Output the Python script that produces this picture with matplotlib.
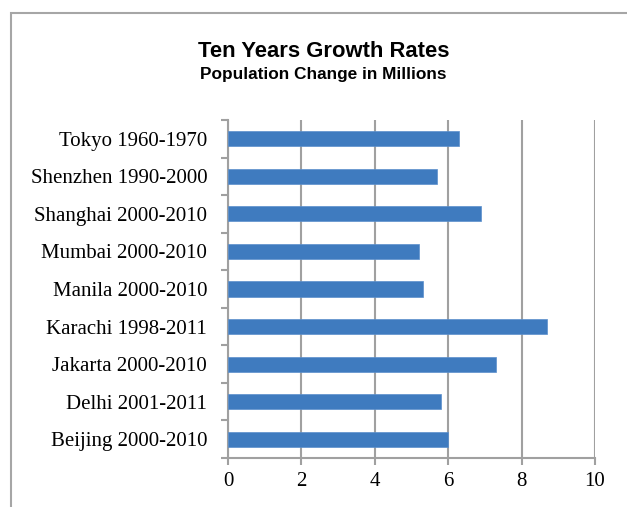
import matplotlib.pyplot as plt
from matplotlib.patches import Rectangle

# Data (bottom to top as drawn)
cities = ['Beijing 2000-2010', 'Delhi 2001-2011', 'Jakarta 2000-2010',
          'Karachi 1998-2011', 'Manila 2000-2010', 'Mumbai 2000-2010',
          'Shanghai 2000-2010', 'Shenzhen 1990-2000', 'Tokyo 1960-1970']
growth = [6.0, 5.8, 7.3, 8.7, 5.3, 5.2, 6.9, 5.7, 6.3]

W, H = 627, 507
fig = plt.figure(figsize=(W / 100, H / 100), dpi=100)

# outer chart frame (left/top visible, rest clipped)
fig.patches.append(Rectangle((10.5 / W, -0.1), 1.2, 1 - 12.5 / H + 0.1,
                             transform=fig.transFigure, fill=False,
                             edgecolor='#a6a6a6', linewidth=1.5))

ax = fig.add_axes([228 / W, 1 - 458 / H, (595 - 228) / W, (458 - 120) / H])
ypos = range(len(cities))
ax.barh(ypos, growth, height=0.4, color='#3f7bbf', edgecolor='#5b8fcc',
        linewidth=0.5, zorder=3)

ax.set_xlim(0, 10)
ax.set_ylim(-0.5, len(cities) - 0.5)
ax.set_xticks(range(0, 11, 2))
ax.set_yticks(list(ypos))
ax.set_yticklabels(cities)
ax.set_yticks([i - 0.5 for i in range(len(cities) + 1)], minor=True)
ax.xaxis.grid(True, color='#a0a0a0', linewidth=1.5, zorder=0)

for s in ['top', 'right']:
    ax.spines[s].set_visible(False)
for s in ['left', 'bottom']:
    ax.spines[s].set_color('#a0a0a0')
    ax.spines[s].set_linewidth(1.5)

ax.tick_params(axis='y', which='major', length=0, pad=15)
ax.tick_params(axis='y', which='minor', length=5, color='#a0a0a0', width=1.5)
ax.tick_params(axis='x', length=5, color='#a0a0a0', width=1.5, pad=5)
for lab in ax.get_xticklabels() + ax.get_yticklabels():
    lab.set_fontfamily('Liberation Serif')
    lab.set_fontsize(15)

fig.text(324 / W, 1 - 57 / H, 'Ten Years Growth Rates', ha='center', va='baseline',
         fontfamily='Liberation Sans', fontweight='bold', fontsize=15.8)
fig.text(323 / W, 1 - 79 / H, 'Population Change in Millions', ha='center', va='baseline',
         fontfamily='Liberation Sans', fontweight='bold', fontsize=12.4)

fig.savefig('out.png', dpi=100)
